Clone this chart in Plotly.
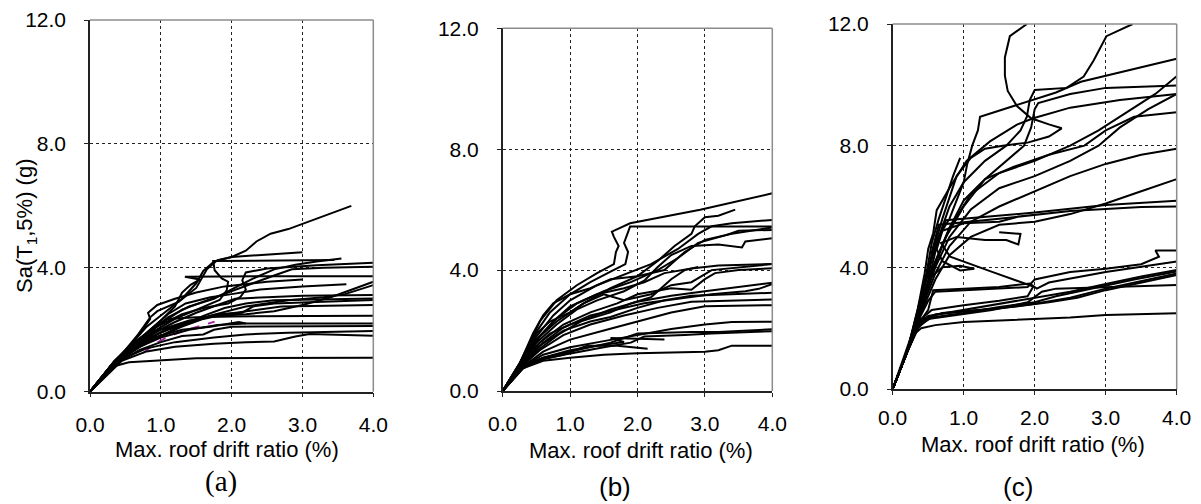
import plotly.graph_objects as go

W, H = 1201, 504

# ---------------- data ----------------
X_TICKS = [0, 1, 2, 3, 4]
X_TICK_LABELS = ["0.0", "1.0", "2.0", "3.0", "4.0"]
Y_TICKS = [0, 4, 8, 12]
Y_TICK_LABELS = ["0.0", "4.0", "8.0", "12.0"]
X_TITLE = "Max. roof drift ratio (%)"
Y_TITLE = "Sa(T<sub>1</sub>,5%) (g)"
PANEL_LABELS = ["(a)", "(b)", "(c)"]

PANEL_A = [
    [(0,0),(0.3,0.85),(0.5,1.35),(0.68,1.85),(0.85,2.4),(0.95,2.6),(1.25,2.9),(1.5,3.35),(1.65,3.95),(1.8,4.25),(2.0,4.35),(2.2,4.55),(2.35,4.85),(2.55,5.1),(2.8,5.25),(3.69,6.0)],
    [(0,0),(0.3,0.85),(0.55,1.45),(0.8,2.1),(1.05,2.55),(1.3,3.0),(1.5,3.5),(1.6,3.9),(1.75,4.2),(2.0,4.35),(3.0,4.5)],
    [(0,0),(0.3,0.85),(0.55,1.4),(0.85,1.95),(1.1,2.4),(1.4,2.75),(1.75,3.0),(2.0,3.3),(2.3,3.65),(2.6,3.95),(2.9,4.1),(3.2,4.2),(3.55,4.3)],
    [(0,0),(0.3,0.85),(0.6,1.5),(0.9,1.95),(1.2,2.35),(1.5,2.65),(1.83,2.96),(1.93,3.27),(1.95,3.55),(1.86,3.66),(1.76,3.92),(1.74,4.22),(2.6,4.24),(3.45,4.25)],
    [(0,0),(0.35,1.0),(0.6,1.55),(0.95,2.1),(1.3,2.5),(1.6,2.7),(1.95,2.85),(2.12,3.05),(2.2,3.3),(2.15,3.6),(2.2,3.85),(2.5,3.98),(3.2,4.08),(4.0,4.16)],
    [(0,0),(0.4,1.1),(0.7,1.7),(1.0,2.2),(1.3,2.65),(1.7,3.0),(2.0,3.25),(2.3,3.5),(2.6,3.75),(2.85,3.95),(3.3,4.0),(4.0,4.03)],
    [(0,0),(0.35,1.0),(0.55,1.45),(0.8,1.9),(1.0,2.3),(1.2,2.75),(1.3,3.2),(1.42,3.45),(1.55,3.62),(1.34,3.71),(2.5,3.73),(4.0,3.73)],
    [(0,0),(0.4,1.05),(0.7,1.6),(1.0,2.0),(1.4,2.3),(1.8,2.45),(2.2,2.5),(2.6,2.6),(3.0,2.8),(3.4,3.05),(3.7,3.3),(4.0,3.55)],
    [(0,0),(0.4,1.05),(0.75,1.6),(1.1,2.05),(1.6,2.4),(2.2,2.75),(2.8,2.95),(3.3,3.05),(3.6,3.15),(3.8,3.3),(4.0,3.44)],
    [(0,0),(0.35,1.0),(0.6,1.5),(0.85,2.0),(1.1,2.5),(1.35,2.85),(1.7,3.05),(2.0,3.15),(2.4,3.3),(3.0,3.4),(3.62,3.47)],
    [(0,0),(0.35,0.95),(0.6,1.45),(0.9,1.9),(1.2,2.25),(1.5,2.55),(1.8,2.8),(2.05,3.0),(2.5,3.05),(3.0,3.1),(4.0,3.12)],
    [(0,0),(0.4,1.0),(0.7,1.45),(1.0,1.8),(1.3,2.15),(1.6,2.45),(1.9,2.7),(2.2,2.85),(2.6,2.95),(4.0,3.01)],
    [(0,0),(0.4,1.0),(0.65,1.4),(0.95,1.75),(1.3,2.1),(1.6,2.35),(1.9,2.5),(2.2,2.6),(2.7,2.75),(4.0,2.8)],
    [(0,0),(0.35,0.9),(0.6,1.3),(0.85,1.7),(0.92,2.1),(1.1,2.35),(1.5,2.4),(2.0,2.43),(4.0,2.45)],
    [(0,0),(0.4,1.0),(0.7,1.45),(1.0,1.75),(1.4,2.0),(1.8,2.15),(2.2,2.2),(4.0,2.2)],
    [(0,0),(0.4,0.95),(0.7,1.35),(1.0,1.6),(1.3,1.8),(1.6,1.85),(1.75,2.0),(2.0,2.1),(4.0,2.12)],
    [(0,0),(0.45,1.05),(0.8,1.4),(1.2,1.6),(1.75,1.75),(2.2,1.85),(2.8,1.9),(4.0,1.96)],
    [(0,0),(0.45,1.0),(0.8,1.3),(1.2,1.45),(1.75,1.55),(2.2,1.6),(2.6,1.62),(2.9,1.78),(3.1,1.86),(4.0,1.81)],
    [(0,0),(0.3,0.8),(0.55,0.95),(0.9,1.0),(1.5,1.08),(4.0,1.1)],
    [(0,0),(0.35,0.95),(0.6,1.35),(0.9,1.75),(1.3,2.0),(1.7,2.1),(2.1,2.25),(2.2,2.2)],
    [(0,0),(0.3,0.85),(0.55,1.45),(0.7,1.85),(0.85,2.35),(0.82,2.55),(0.95,2.8),(1.2,3.0),(1.5,3.2),(1.9,3.4),(2.5,3.55),(3.0,3.62)],
    [(0,0),(0.4,1.05),(0.75,1.65),(1.1,2.0),(1.5,2.3),(1.8,2.5),(2.15,2.55),(2.3,2.75),(2.6,2.85),(3.2,2.9),(4.0,2.96)],
]
PANEL_A_MAGENTA = [(0.75,1.25),(0.94,1.58),(1.1,1.77),(1.36,2.0),(1.76,2.26)]

PANEL_B = [
    [(0,0),(0.25,0.9),(0.4,1.6),(0.55,2.3),(0.8,3.0),(1.1,3.5),(1.4,3.9),(1.65,4.2),(1.68,4.6),(1.72,4.8),(1.65,5.1),(1.62,5.27),(1.89,5.55),(2.5,5.8),(2.93,6.0),(4.0,6.54)],
    [(0,0),(0.25,0.9),(0.45,1.8),(0.7,2.6),(1.0,3.2),(1.3,3.6),(1.6,3.95),(1.82,4.2),(1.86,4.6),(1.8,4.9),(1.85,5.2),(1.89,5.44),(4.0,5.44)],
    [(0,0),(0.3,1.0),(0.5,1.7),(0.8,2.3),(1.2,2.9),(1.6,3.4),(2.0,3.8),(2.3,4.3),(2.55,4.8),(2.8,5.2),(2.85,5.45),(3.0,5.75),(3.2,5.8),(3.45,6.0)],
    [(0,0),(0.3,1.0),(0.5,1.8),(0.75,2.5),(1.0,3.0),(1.4,3.5),(1.8,3.85),(2.2,4.2),(2.6,4.7),(2.9,5.2),(3.1,5.45),(3.4,5.55),(4.0,5.66)],
    [(0,0),(0.3,0.95),(0.55,1.8),(0.8,2.4),(1.1,2.9),(1.5,3.3),(1.9,3.6),(2.3,4.0),(2.6,4.4),(2.9,4.9),(3.3,5.15),(3.5,5.3),(4.0,5.33)],
    [(0,0),(0.3,0.95),(0.5,1.6),(0.8,2.2),(1.1,2.7),(1.4,3.0),(1.8,3.3),(2.1,3.65),(2.3,4.1),(2.5,4.5),(2.8,4.8),(3.2,4.85),(3.55,4.75),(3.6,4.95),(4.0,5.05)],
    [(0,0),(0.3,1.0),(0.5,1.7),(0.75,2.3),(1.0,2.8),(1.4,3.2),(1.8,3.4),(2.1,3.6),(2.4,3.9),(2.8,4.05),(3.2,4.15),(4.0,4.2)],
    [(0,0),(0.3,0.9),(0.55,1.6),(0.9,2.2),(1.3,2.6),(1.7,2.9),(2.0,3.2),(2.5,3.4),(2.8,3.35),(3.0,3.7),(3.15,3.9),(3.5,4.0),(4.0,4.06)],
    [(0,0),(0.3,0.85),(0.55,1.4),(0.85,1.9),(1.2,2.35),(1.6,2.7),(2.0,2.95),(2.5,3.15),(3.0,3.3),(3.5,3.45),(4.0,3.58)],
    [(0,0),(0.3,0.9),(0.6,1.6),(0.9,2.1),(1.3,2.5),(1.7,2.7),(2.1,2.9),(2.6,3.05),(3.1,3.2),(3.6,3.3),(3.8,3.38),(4.0,3.54)],
    [(0,0),(0.3,0.9),(0.55,1.5),(0.9,2.0),(1.3,2.3),(1.6,2.45),(2.0,2.75),(2.4,3.0),(2.8,3.15),(4.0,3.25)],
    [(0,0),(0.3,0.85),(0.55,1.35),(0.9,1.85),(1.3,2.2),(1.8,2.5),(2.3,2.75),(2.8,2.95),(4.0,3.03)],
    [(0,0),(0.3,0.8),(0.6,1.3),(1.0,1.7),(1.5,2.0),(2.0,2.3),(2.5,2.6),(3.0,2.8),(4.0,2.84)],
    [(0,0),(0.3,0.8),(0.6,1.2),(1.0,1.45),(1.5,1.65),(2.0,1.85),(2.5,2.05),(3.0,2.2),(3.4,2.28),(4.0,2.29)],
    [(0,0),(0.3,0.75),(0.6,1.1),(1.0,1.3),(1.6,1.6),(2.0,1.9),(2.8,1.95),(3.2,1.95),(4.0,2.04)],
    [(0,0),(0.3,0.75),(0.55,1.05),(1.0,1.25),(1.5,1.45),(1.9,1.6),(2.1,1.8),(2.7,1.85),(3.1,1.9),(4.0,1.98)],
    [(0,0),(0.3,0.75),(0.6,1.0),(1.0,1.1),(1.5,1.2),(2.0,1.25),(3.0,1.3),(3.2,1.35),(3.4,1.5),(4.0,1.5)],
    [(0,0),(0.3,0.8),(0.6,1.1),(1.0,1.35),(1.4,1.5),(1.8,1.62),(1.6,1.75),(2.0,1.72),(2.4,1.7)],
    [(0,0),(0.3,0.8),(0.6,1.05),(0.9,1.2),(1.25,1.5),(1.7,1.5),(2.15,1.4)],
    [(0,0),(0.25,0.9),(0.45,1.9),(0.6,2.5),(0.75,2.9),(1.0,3.2),(1.3,3.4),(1.6,3.7),(2.0,3.8),(2.4,4.0),(2.7,4.6),(3.0,5.0),(3.4,5.2),(4.0,5.41)],
    [(0,0),(0.3,1.1),(0.5,1.9),(0.7,2.3),(1.0,2.6),(1.2,2.9),(1.5,3.2),(1.8,3.0),(2.2,3.2),(2.5,3.5),(2.8,3.6),(3.1,4.0),(4.0,4.2)],
    [(0,0),(0.25,0.85),(0.45,1.4),(0.7,1.9),(1.0,2.2),(1.3,2.4),(1.6,2.6),(1.9,2.9),(2.2,3.1),(2.5,3.7),(2.7,4.0),(2.9,4.1)],
]

PANEL_C = [
    [(0,0),(0.2,1.2),(0.35,2.5),(0.5,3.8),(0.6,4.8),(0.7,5.6),(0.8,6.3),(0.9,7.0),(1.1,7.6),(1.3,7.9),(1.55,8.0),(1.9,8.1),(2.2,8.3),(2.38,8.57),(2.2,8.7),(1.95,8.9),(1.75,9.3),(1.62,9.8),(1.58,10.3),(1.58,10.9),(1.65,11.6),(1.89,12.0)],
    [(0,0),(0.2,1.2),(0.35,2.5),(0.5,3.9),(0.65,5.0),(0.8,6.0),(1.0,6.8),(1.3,7.5),(1.6,8.0),(1.8,8.5),(1.89,8.95),(1.93,9.5),(2.0,9.83),(2.45,9.9),(2.69,10.27),(2.83,10.8),(3.01,11.6),(3.38,12.0)],
    [(0,0),(0.2,1.2),(0.35,2.6),(0.5,4.0),(0.62,4.9),(0.8,5.6),(1.0,6.8),(1.05,7.4),(1.12,8.0),(1.2,8.5),(1.23,8.95),(1.5,9.15),(1.95,9.5),(2.3,9.75),(2.65,10.1),(4.0,10.86)],
    [(0,0),(0.2,1.2),(0.35,2.5),(0.55,3.9),(0.75,5.0),(1.0,6.0),(1.3,6.9),(1.6,7.5),(1.85,8.0),(1.95,8.6),(2.0,9.2),(2.05,9.4),(2.5,9.7),(3.0,9.9),(4.0,9.98)],
    [(0,0),(0.2,1.2),(0.4,2.8),(0.6,4.2),(0.8,5.3),(1.1,6.4),(1.5,7.1),(2.0,7.5),(2.5,8.0),(2.9,8.5),(3.3,9.1),(3.7,9.7),(4.0,10.28)],
    [(0,0),(0.2,1.2),(0.4,2.7),(0.6,4.0),(0.8,5.0),(1.1,5.9),(1.5,6.6),(2.0,7.0),(2.5,7.5),(2.9,8.0),(3.2,8.6),(3.6,9.2),(4.0,9.7)],
    [(0,0),(0.2,1.2),(0.4,2.7),(0.6,4.1),(0.8,5.3),(1.0,6.2),(1.3,6.9),(1.7,7.3),(2.2,7.7),(2.7,8.0),(3.0,8.5),(3.4,8.95),(4.0,9.1)],
    [(0,0),(0.2,1.2),(0.4,2.6),(0.6,3.8),(0.8,4.7),(1.1,5.5),(1.5,6.0),(2.0,6.5),(2.5,7.0),(3.0,7.4),(3.5,7.7),(4.0,7.9)],
    [(0,0),(0.2,1.2),(0.4,2.5),(0.6,3.6),(0.8,4.4),(1.1,5.0),(1.5,5.4),(2.0,5.5),(2.5,5.75),(3.0,6.1),(3.5,6.5),(4.0,6.9)],
    [(0,0),(0.2,1.2),(0.35,2.4),(0.5,3.5),(0.6,4.5),(0.7,5.3),(0.75,5.55),(1.0,5.6),(2.0,5.8),(3.0,6.05),(4.0,6.19)],
    [(0,0),(0.2,1.2),(0.4,2.6),(0.5,3.5),(0.55,4.5),(0.65,5.4),(1.5,5.6),(2.5,5.85),(3.5,5.98),(4.0,6.0)],
    [(0,0),(0.2,1.2),(0.35,2.6),(0.45,3.8),(0.5,4.6),(0.57,5.12),(0.62,5.88),(0.81,6.65),(1.04,7.5),(1.37,8.14),(1.75,8.69),(1.98,8.9),(2.5,9.25),(3.2,9.5),(4.0,9.7)],
    [(0,0),(0.2,1.2),(0.35,2.2),(0.55,2.6),(1.0,2.75),(1.5,2.9),(1.9,3.05),(1.98,3.37),(1.4,3.85),(0.81,4.35),(0.68,4.8),(0.9,5.0),(1.3,4.9),(1.6,4.9),(1.77,4.75),(1.8,5.1),(1.5,5.15)],
    [(0,0),(0.2,1.2),(0.3,1.8),(0.4,2.0),(0.6,2.1),(1.0,2.2),(1.8,2.27),(2.5,2.35),(3.0,2.43),(3.5,2.45),(4.0,2.49)],
    [(0,0),(0.2,1.2),(0.35,2.1),(0.5,2.4),(1.0,2.6),(1.5,2.8),(2.0,3.0),(2.5,3.2),(3.0,3.45),(3.5,3.7),(4.0,3.91)],
    [(0,0),(0.2,1.2),(0.35,2.05),(0.55,2.35),(1.0,2.5),(1.5,2.7),(2.0,2.85),(2.3,3.05),(2.8,3.3),(3.4,3.6),(4.0,3.86)],
    [(0,0),(0.2,1.2),(0.4,2.2),(0.6,2.45),(1.0,2.55),(1.5,2.65),(2.0,2.8),(2.5,3.0),(3.0,3.3),(3.5,3.55),(4.0,3.8)],
    [(0,0),(0.2,1.2),(0.4,2.3),(0.7,2.5),(1.2,2.6),(1.7,2.7),(2.2,2.85),(2.6,3.0),(3.0,3.25),(3.5,3.5),(4.0,3.75)],
    [(0,0),(0.2,1.2),(0.35,2.0),(0.5,2.3),(0.8,2.4),(1.4,2.6),(1.9,2.85),(2.1,3.2),(2.3,3.3),(3.0,3.35),(4.0,3.42)],
    [(0,0),(0.2,1.2),(0.35,2.2),(0.5,2.9),(0.6,3.2),(1.0,3.25),(1.5,3.3),(1.9,3.35),(2.0,3.6),(2.5,3.85),(3.0,3.95),(3.5,4.1),(3.75,4.35),(3.7,4.55),(4.0,4.55)],
    [(0,0),(0.2,1.2),(0.35,2.1),(0.5,2.6),(0.57,3.25),(1.0,3.3),(1.5,3.35),(1.93,3.47),(2.03,3.3),(2.2,3.5),(3.0,3.85),(4.0,4.19)],
    [(0,0),(0.2,1.2),(0.35,2.3),(0.45,3.1),(0.55,3.7),(0.7,4.0),(0.95,4.05),(1.15,3.95),(0.95,3.9),(0.7,4.2),(0.62,4.6),(0.7,5.2),(1.0,5.45),(1.5,5.5),(1.75,5.65)],
    [(0,0),(0.15,1.0),(0.3,2.0),(0.4,2.8),(0.45,3.5),(0.5,4.2),(0.55,4.8),(0.65,5.6),(0.75,6.3),(0.85,7.0),(0.95,7.6)],
]

# ---------------- layout geometry (pixels) ----------------
PANELS = [
    dict(curves=PANEL_A, x0=90, x1=373.3, top=20, bottom=391.7),
    dict(curves=PANEL_B, x0=502.7, x1=772.3, top=28.3, bottom=391.0),
    dict(curves=PANEL_C, x0=892.7, x1=1176.7, top=24, bottom=389.0),
]

def px(x):
    return x / W

def py(y):
    return 1 - y / H

FONT = "Liberation Sans, Arial, sans-serif"
fig = go.Figure()
layout = dict(
    template="none",
    width=W, height=H, margin=dict(l=0, r=0, t=0, b=0, pad=0), autosize=False,
    paper_bgcolor="white", plot_bgcolor="white", showlegend=False,
    font=dict(family=FONT, size=22, color="black"),
)

shapes = []
for i, p in enumerate(PANELS):
    n = "" if i == 0 else str(i + 1)
    xa, ya = "x" + n, "y" + n
    if i == 0:
        fig.add_trace(go.Scatter(x=[pt[0] for pt in PANEL_A_MAGENTA],
                                 y=[pt[1] for pt in PANEL_A_MAGENTA],
                                 mode="lines", xaxis=xa, yaxis=ya,
                                 line=dict(color="#a020a0", width=1.8, dash="dash"),
                                 hoverinfo="skip"))
    for c in p["curves"]:
        fig.add_trace(go.Scatter(x=[pt[0] for pt in c], y=[pt[1] for pt in c],
                                 mode="lines", xaxis=xa, yaxis=ya,
                                 line=dict(color="black", width=2),
                                 hoverinfo="skip"))
    layout["xaxis" + n] = dict(
        domain=[px(p["x0"]), px(p["x1"])], anchor=ya, range=[0, 4], automargin=False,
        tickmode="array", tickvals=X_TICKS, ticktext=X_TICK_LABELS,
        showgrid=True, gridcolor="#222222", gridwidth=1, griddash="dot",
        zeroline=False, showline=True, linecolor="#222222", linewidth=1.5,
        ticks="outside", ticklen=4, tickcolor="#222222", tickwidth=1,
        ticklabelstandoff=9 if i < 2 else 5,
        tickfont=dict(family=FONT, size=21, color="black"), fixedrange=True,
    )
    layout["yaxis" + n] = dict(
        domain=[py(p["bottom"]), py(p["top"])], anchor=xa, range=[0, 12], automargin=False,
        tickmode="array", tickvals=Y_TICKS, ticktext=Y_TICK_LABELS,
        showgrid=True, gridcolor="#222222", gridwidth=1, griddash="dot",
        zeroline=False, showline=True, linecolor="#222222", linewidth=1.5,
        ticks="outside", ticklen=4, tickcolor="#222222", tickwidth=1,
        ticklabelstandoff=14,
        tickfont=dict(family=FONT, size=21, color="black"), fixedrange=True,
    )
    shapes.append(dict(type="line", xref=xa + " domain", yref=ya + " domain",
                       x0=0, x1=1, y0=1, y1=1, line=dict(color="#8c8c8c", width=1.5)))
    shapes.append(dict(type="line", xref=xa + " domain", yref=ya + " domain",
                       x0=1, x1=1, y0=0, y1=1, line=dict(color="#8c8c8c", width=1.5)))

layout["shapes"] = shapes

annotations = []
title_pos = [(227, 449), (641, 450), (1033, 444)]
for (cx, cy) in title_pos:
    annotations.append(dict(text=X_TITLE, xref="paper", yref="paper", x=px(cx), y=py(cy),
                            xanchor="center", yanchor="middle", showarrow=False,
                            font=dict(family=FONT, size=22, color="black")))
label_specs = [
    (PANEL_LABELS[0], 221, 481, "Liberation Serif, Times New Roman, serif", 29),
    (PANEL_LABELS[1], 615, 487, FONT, 26),
    (PANEL_LABELS[2], 1018, 487, FONT, 26),
]
for text, cx, cy, fam, size in label_specs:
    annotations.append(dict(text=text, xref="paper", yref="paper", x=px(cx), y=py(cy),
                            xanchor="center", yanchor="middle", showarrow=False,
                            font=dict(family=fam, size=size, color="black")))
annotations.append(dict(text=Y_TITLE, xref="paper", yref="paper", x=px(26), y=py(226),
                        xanchor="center", yanchor="middle", textangle=-90, showarrow=False,
                        font=dict(family=FONT, size=22, color="black")))
layout["annotations"] = annotations

fig.update_layout(**layout)
fig.write_html("out.html")
